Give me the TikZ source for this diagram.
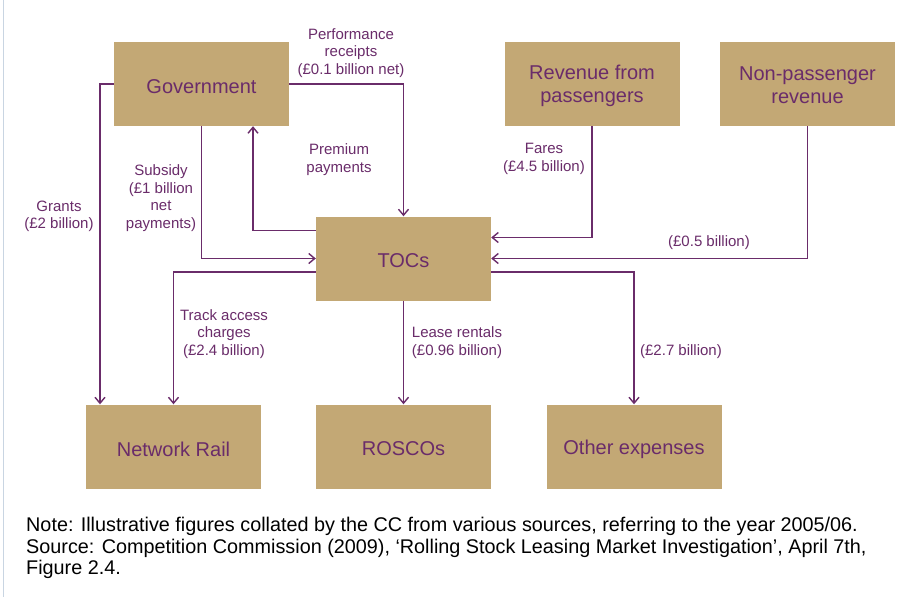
\documentclass[tikz,border=0pt]{standalone}
\usepackage{fontspec}
\setmainfont{Liberation Sans}
\usetikzlibrary{arrows.meta}
\definecolor{boxfill}{HTML}{C3A875}
\definecolor{purp}{HTML}{6A2C6A}
\definecolor{edge}{HTML}{C9D5E2}
\begin{document}
\begin{tikzpicture}[x=1pt,y=-1pt,
  box/.style={fill=boxfill,draw=none,minimum width=175pt,minimum height=84pt,inner sep=0pt},
  boxtext/.style={text=purp,align=center,inner sep=0pt,font=\fontsize{20}{23}\selectfont},
  lbl/.style={text=purp,align=center,inner sep=0pt,font=\fontsize{15}{17.5}\selectfont},
  arr/.style={draw=purp,line width=1.5pt,-{Straight Barb[length=6pt,width=10pt,line width=1.4pt]}}]
\useasboundingbox (0,0) rectangle (901,597);
\fill[white] (0,0) rectangle (901,597);
\draw[edge,line width=1.5pt] (3.5,0) -- (3.5,597);

\node[box] (gov) at (201.5,84) {};
\node[box] (rev) at (592,84) {};
\node[box] (np) at (807.5,84) {};
\node[box] (tocs) at (403.5,258.5) {};
\node[box] (nr) at (173.5,446.5) {};
\node[box] (ros) at (403.5,446.5) {};
\node[box] (oth) at (634,446.5) {};

\node[boxtext] (tgov) at ([yshift=-2.5pt]gov.center) {Government};
\node[boxtext] (trev) at ([yshift=-2pt]rev.center) {Revenue from\\passengers};
\node[boxtext] (tnp) at ([yshift=-1.5pt]np.center) {Non-passenger\\revenue};
\node[boxtext] (ttocs) at ([yshift=-2.5pt]tocs.center) {TOCs};
\node[boxtext] (tnr) at ([yshift=-2.5pt]nr.center) {Network Rail};
\node[boxtext] (tros) at ([yshift=-2.5pt]ros.center) {ROSCOs};
\node[boxtext] (toth) at ([yshift=-2.5pt]oth.center) {Other expenses};

\draw[arr] (gov.west) -| ([xshift=-73.5pt]nr.north);
\draw[arr] (gov.east) -| (tocs.north);
\draw[arr] ([yshift=28pt]tocs.west) -| ([xshift=51.5pt]gov.south);
\draw[arr] (gov.south) |- (tocs.west);
\draw[arr] ([yshift=-13.5pt]tocs.west) -| (nr.north);
\draw[arr] (tocs.south) -- (ros.north);
\draw[arr] ([yshift=-13.5pt]tocs.east) -| (oth.north);
\draw[arr] (rev.south) |- ([yshift=21pt]tocs.east);
\draw[arr] (np.south) |- (tocs.east);

\node[lbl] (lperf) at (351,53) {Performance\\receipts\\(£0.1 billion net)};
\node[lbl] (lprem) at (339,159.5) {Premium\\payments};
\node[lbl] (lsub) at (161,198) {Subsidy\\(£1 billion\\net\\payments)};
\node[lbl] (lgr) at (59,216.5) {Grants\\(£2 billion)};
\node[lbl] (lfare) at (544,159) {Fares\\(£4.5 billion)};
\node[lbl] (lnp) at (709,243) {(£0.5 billion)};
\node[lbl] (ltrack) at (224,334) {Track access\\charges\\(£2.4 billion)};
\node[lbl] (llease) at (457,342.5) {Lease rentals\\(£0.96 billion)};
\node[lbl] (loth) at (681,352) {(£2.7 billion)};

\node[anchor=base west,align=left,inner sep=0pt,font=\fontsize{19.8}{21.5}\selectfont] (note) at (26,574.5)
 {Note: Illustrative figures collated by the CC from various sources, referring to the year 2005/06.\\
  Source: Competition Commission (2009), ‘Rolling Stock Leasing Market Investigation’, April 7th,\\
  Figure 2.4.};
\end{tikzpicture}
\end{document}
